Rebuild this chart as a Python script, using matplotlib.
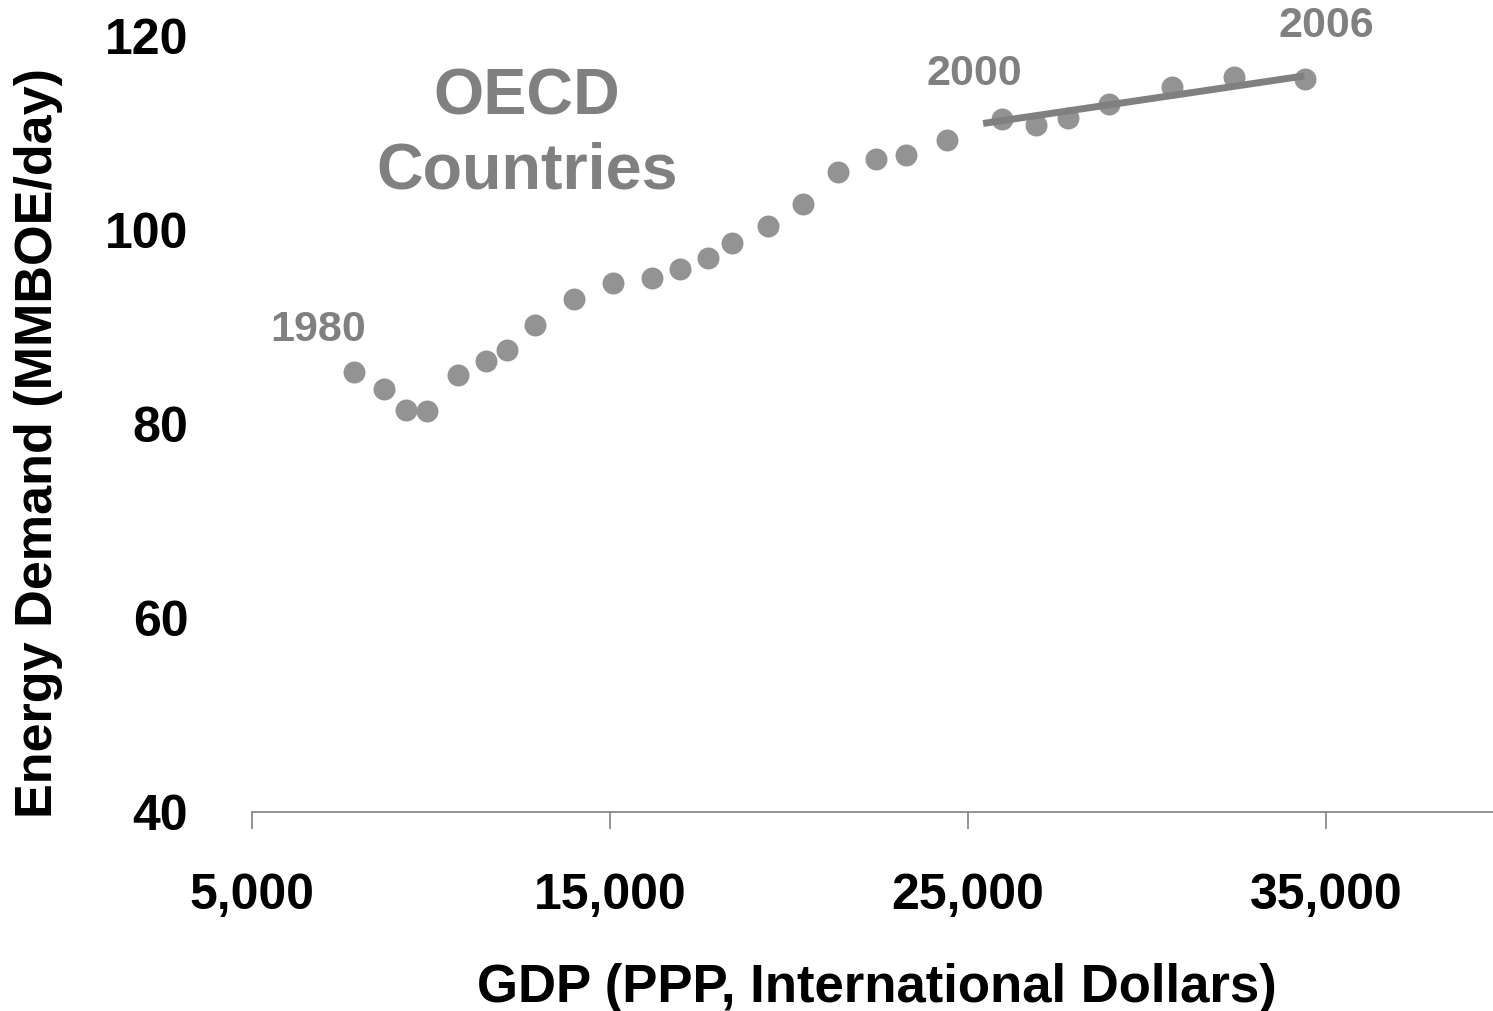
import matplotlib
matplotlib.use("Agg")
import matplotlib.pyplot as plt

plt.rcParams["font.family"] = ["Liberation Sans", "DejaVu Sans"]
plt.rcParams["font.weight"] = "bold"

years = list(range(1980, 2007))
gdp = [7850, 8690, 9300, 9890, 10750, 11540, 12120, 12900, 13990, 15080,
       16170, 16950, 17740, 18410, 19410, 20390, 21370, 22430, 23270, 24410,
       25950, 26900, 27790, 28940, 30700, 32430, 34410]
demand = [85.4, 83.6, 81.5, 81.3, 85.1, 86.5, 87.6, 90.2, 92.9, 94.6,
          95.1, 96.0, 97.1, 98.7, 100.4, 102.7, 106.0, 107.3, 107.7, 109.3,
          111.5, 110.8, 111.6, 113.0, 114.8, 115.8, 115.6]
trend_x = [25420, 34390]
trend_y = [111.0, 115.9]
xticks = [5000, 15000, 25000, 35000]
yticks = [40, 60, 80, 100, 120]

fig = plt.figure(figsize=(14.93, 10.11), dpi=100)
ax = fig.add_axes([0.1688, 0.1968, 0.8312, 0.7962])

ax.scatter(gdp, demand, s=250, color="#939393", linewidths=0, zorder=2)
ax.plot(trend_x, trend_y, color="#808080", lw=5, solid_capstyle="butt", zorder=3)

# year labels
lab = dict(textcoords="offset points", ha="center", va="center", fontsize=31,
           color="#808080", fontweight="bold")
ax.annotate(str(years[0]), (gdp[0], demand[0]), xytext=(-26, 30), **lab)
ax.annotate(str(years[20]), (gdp[20], demand[20]), xytext=(-20, 32), **lab)
ax.annotate(str(years[-1]), (gdp[-1], demand[-1]), xytext=(15, 38), **lab)

ax.text(12680, 109.9, "OECD\nCountries", ha="center", va="center", fontsize=46.5,
        color="#808080", fontweight="bold", linespacing=1.3)

ax.set_xlim(5000, 39660)
ax.set_ylim(40, 123)
ax.set_xticks(xticks)
ax.set_xticklabels([f"{v:,}" for v in xticks])
ax.set_yticks(yticks)

for s in ["top", "right", "left"]:
    ax.spines[s].set_visible(False)
ax.spines["bottom"].set_color("#808080")
ax.spines["bottom"].set_linewidth(1.2)

ax.tick_params(axis="x", direction="out", length=12, width=1.2, color="#808080",
               pad=32, labelsize=36)
ax.tick_params(axis="y", length=0, pad=46, labelsize=36)

ax.set_xlabel("GDP (PPP, International Dollars)", fontsize=38, fontweight="bold")
ax.set_ylabel("Energy Demand (MMBOE/day)", fontsize=37.5, fontweight="bold")
ax.xaxis.set_label_coords(0.5036, -0.187)
ax.yaxis.set_label_coords(-0.152, 0.458)

fig.savefig("out.png", dpi=100)
